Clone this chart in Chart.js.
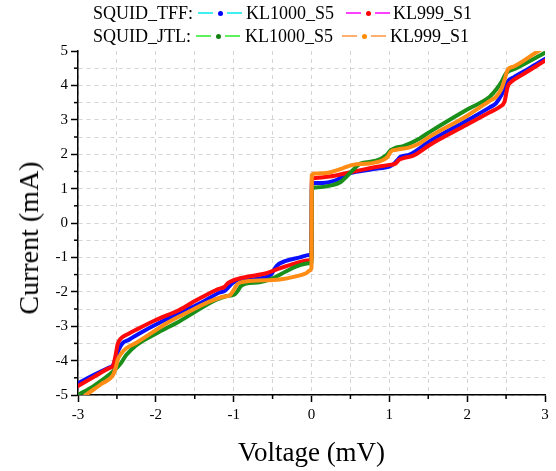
<!DOCTYPE html>
<html>
<head>
<meta charset="utf-8">
<script src="https://cdn.jsdelivr.net/npm/chart.js@4.4.1/dist/chart.umd.min.js"></script>
<style>
  html, body { margin: 0; padding: 0; background: #fff; }
  #wrap { position: relative; width: 556px; height: 471px; font-family: 'Liberation Serif', 'Times New Roman', serif; }
  canvas { position: absolute; left: 0; top: 0; }
  .lg { position: absolute; font-size: 18px; line-height: 20px; color: #000; white-space: nowrap; }
  .sw { position: absolute; width: 44px; height: 20px; }
  .sw .l { position: absolute; top: 9px; height: 1.5px; width: 15px; }
  .sw .l.a { left: 0; }
  .sw .l.b { right: 0; }
  .sw .d { position: absolute; top: 7.5px; left: 19.5px; width: 5px; height: 5px; border-radius: 50%; }
  #ytitle { position: absolute; left: 29px; top: 238px; font-size: 28px; line-height: 32px; white-space: nowrap; color: #000;
            transform: translate(-50%, -50%) rotate(-90deg); }
</style>
</head>
<body>
<div id="wrap">
  <canvas id="c" width="556" height="471"></canvas>
  <div id="ytitle">Current (mA)</div>
  <div class="lg" style="left:93px;top:3px">SQUID_TFF:</div>
  <div class="sw" style="left:198px;top:3px"><div class="l a" style="background:#40f0f0"></div><div class="d" style="background:#0000ff"></div><div class="l b" style="background:#40f0f0"></div></div>
  <div class="lg" style="left:246px;top:3px">KL1000_S5</div>
  <div class="sw" style="left:346px;top:3px"><div class="l a" style="background:#ff40ff"></div><div class="d" style="background:#ff0000"></div><div class="l b" style="background:#ff40ff"></div></div>
  <div class="lg" style="left:393px;top:3px">KL999_S1</div>
  <div class="lg" style="left:93px;top:26px">SQUID_JTL:</div>
  <div class="sw" style="left:196px;top:26px"><div class="l a" style="background:#60f060"></div><div class="d" style="background:#108010"></div><div class="l b" style="background:#60f060"></div></div>
  <div class="lg" style="left:245px;top:26px">KL1000_S5</div>
  <div class="sw" style="left:342px;top:26px"><div class="l a" style="background:#ffb070"></div><div class="d" style="background:#ff8c00"></div><div class="l b" style="background:#ffb070"></div></div>
  <div class="lg" style="left:390px;top:26px">KL999_S1</div>
</div>
<script>
// Tick labels
const xTickLabels = ['-3', '-2', '-1', '0', '1', '2', '3'];
const yTickLabels = ['-5', '-4', '-3', '-2', '-1', '0', '1', '2', '3', '4', '5'];

// SQUID_TFF KL1000_S5
const tffKL1000V = [-3.0, -2.8, -2.6, -2.55, -2.52, -2.48, -2.43, -2.35, -2.25, -1.91, -1.7, -1.4, -1.18, -1.12, -1.06, -1.02, -0.99, -0.84, -0.6, -0.52, -0.45, -0.33, -0.15, -0.03, 0, 0.004, 0.05, 0.21, 0.32, 0.4, 0.47, 0.53, 0.87, 1.0, 1.06, 1.1, 1.14, 1.26, 1.52, 2.0, 2.29, 2.37, 2.44, 2.52, 2.6, 2.8, 3.0];
const tffKL1000I = [-4.66, -4.42, -4.2, -4.14, -3.95, -3.7, -3.5, -3.4, -3.26, -2.85, -2.63, -2.3, -2.02, -1.98, -1.85, -1.75, -1.71, -1.66, -1.58, -1.5, -1.25, -1.1, -1.0, -0.93, -0.92, 1.14, 1.16, 1.18, 1.25, 1.35, 1.43, 1.47, 1.59, 1.64, 1.72, 1.82, 1.92, 1.99, 2.38, 2.98, 3.36, 3.48, 3.72, 4.11, 4.24, 4.5, 4.77];

// SQUID_TFF KL999_S1
const tffKL999V = [-3.0, -2.8, -2.6, -2.55, -2.52, -2.49, -2.45, -2.35, -2.25, -2.0, -1.7, -1.5, -1.31, -1.2, -1.12, -1.07, -1.02, -0.84, -0.58, -0.41, -0.2, -0.03, 0, 0.004, 0.05, 0.23, 0.53, 0.83, 1.0, 1.08, 1.12, 1.17, 1.3, 1.52, 2.0, 2.29, 2.42, 2.48, 2.52, 2.57, 2.7, 3.0];
const tffKL999I = [-4.74, -4.48, -4.22, -4.15, -3.88, -3.52, -3.36, -3.22, -3.1, -2.82, -2.53, -2.27, -2.04, -1.92, -1.86, -1.74, -1.68, -1.57, -1.46, -1.32, -1.17, -1.08, -1.05, 1.28, 1.31, 1.35, 1.49, 1.63, 1.69, 1.73, 1.83, 1.88, 1.95, 2.27, 2.86, 3.22, 3.38, 3.53, 3.96, 4.11, 4.3, 4.72];

// SQUID_JTL KL1000_S5
const jtlKL1000V = [-3.0, -2.8, -2.55, -2.45, -2.38, -2.25, -2.0, -1.7, -1.23, -1.1, -0.99, -0.95, -0.91, -0.84, -0.67, -0.5, -0.33, -0.2, -0.03, 0, 0.004, 0.05, 0.27, 0.38, 0.45, 0.55, 0.62, 0.83, 0.96, 1.02, 1.07, 1.17, 1.39, 1.52, 2.0, 2.29, 2.38, 2.44, 2.5, 2.63, 3.0];
const jtlKL1000I = [-5.0, -4.74, -4.32, -4.08, -3.84, -3.55, -3.22, -2.86, -2.24, -2.13, -2.08, -1.98, -1.84, -1.76, -1.72, -1.61, -1.41, -1.27, -1.17, -1.15, 1.01, 1.03, 1.1, 1.2, 1.35, 1.58, 1.72, 1.81, 1.97, 2.12, 2.18, 2.23, 2.46, 2.65, 3.3, 3.67, 3.9, 4.1, 4.35, 4.5, 4.95];

// SQUID_JTL KL999_S1
const jtlKL999V = [-3.0, -2.9, -2.7, -2.55, -2.52, -2.49, -2.44, -2.38, -2.25, -1.85, -1.7, -1.15, -1.05, -1.0, -0.95, -0.85, -0.41, -0.2, -0.07, -0.02, 0, 0.004, 0.05, 0.23, 0.4, 0.53, 0.75, 0.92, 0.98, 1.02, 1.09, 1.26, 1.39, 1.52, 2.0, 2.29, 2.37, 2.44, 2.48, 2.52, 2.6, 2.9, 3.0];
const jtlKL999I = [-5.17, -5.0, -4.68, -4.42, -4.25, -3.98, -3.78, -3.64, -3.48, -2.9, -2.72, -2.15, -2.1, -1.95, -1.77, -1.7, -1.64, -1.55, -1.46, -1.38, -1.3, 1.4, 1.44, 1.47, 1.59, 1.69, 1.73, 1.83, 1.93, 2.08, 2.13, 2.2, 2.32, 2.51, 3.12, 3.55, 3.67, 3.9, 4.16, 4.45, 4.55, 4.98, 5.12];

const pts = (V, I) => V.map((v, i) => ({ x: v, y: I[i] }));
const FONT = "'Liberation Serif', 'Times New Roman', serif";

const minorTicks = {
  id: 'minorTicks',
  afterDraw(chart) {
    const ctx = chart.ctx;
    ctx.save();
    ctx.strokeStyle = '#000';
    ctx.lineWidth = 1.5;
    const xs = chart.scales.x, ys = chart.scales.y;
    xs.ticks.forEach(t => {
      if (!Number.isInteger(t.value)) {
        const px = xs.getPixelForValue(t.value);
        ctx.beginPath(); ctx.moveTo(px, xs.top); ctx.lineTo(px, xs.top + 4); ctx.stroke();
      }
    });
    ys.ticks.forEach(t => {
      if (!Number.isInteger(t.value)) {
        const py = ys.getPixelForValue(t.value);
        ctx.beginPath(); ctx.moveTo(ys.right, py); ctx.lineTo(ys.right - 4, py); ctx.stroke();
      }
    });
    ctx.restore();
  }
};

const gridColor = (ctx, maxV) => (ctx.tick && ctx.tick.value === maxV) ? 'rgba(0,0,0,0)' : '#d4d4d4';
const tickCol = ctx => (ctx.tick && Number.isInteger(ctx.tick.value)) ? '#000' : 'rgba(0,0,0,0)';

new Chart(document.getElementById('c'), {
  type: 'scatter',
  data: {
    datasets: [
      { label: 'SQUID_TFF KL1000_S5', data: pts(tffKL1000V, tffKL1000I), borderColor: '#0a10ff', order: 3 },
      { label: 'SQUID_TFF KL999_S1', data: pts(tffKL999V, tffKL999I), borderColor: '#ff0a0a', order: 2 },
      { label: 'SQUID_JTL KL1000_S5', data: pts(jtlKL1000V, jtlKL1000I), borderColor: '#1a8f1a', order: 1 },
      { label: 'SQUID_JTL KL999_S1', data: pts(jtlKL999V, jtlKL999I), borderColor: '#ff8c14', order: 0 }
    ].map(d => Object.assign(d, { showLine: true, pointRadius: 0, borderWidth: 4, cubicInterpolationMode: 'monotone', fill: false, borderJoinStyle: 'round', borderCapStyle: 'round' }))
  },
  options: {
    responsive: false,
    animation: false,
    events: [],
    layout: { padding: { top: 51, right: 11, left: 0, bottom: 0 } },
    plugins: { legend: { display: false }, tooltip: { enabled: false } },
    scales: {
      x: {
        type: 'linear', min: -3, max: 3,
        afterFit: s => { s.height = 76; },
        border: { display: true, color: '#000', width: 1.5, dash: [4, 4] },
        grid: { color: c => gridColor(c, 3), lineWidth: 1, tickColor: tickCol, tickLength: 7, tickWidth: 1.5, tickBorderDash: [] },
        ticks: {
          stepSize: 0.5, maxTicksLimit: 100, autoSkip: false, maxRotation: 0, padding: 4,
          color: '#000', font: { family: FONT, size: 15 },
          callback: v => Number.isInteger(v) ? xTickLabels[v + 3] : ''
        },
        title: { display: true, text: 'Voltage (mV)', color: '#000', font: { family: FONT, size: 27 }, padding: { top: 0, bottom: 1 } }
      },
      y: {
        type: 'linear', min: -5, max: 5,
        afterFit: s => { s.width = 78; },
        border: { display: true, color: '#000', width: 1.5, dash: [4, 4] },
        grid: { color: c => gridColor(c, 5), lineWidth: 1, tickColor: tickCol, tickLength: 7, tickWidth: 1.5, tickBorderDash: [] },
        ticks: {
          stepSize: 0.5, maxTicksLimit: 100, autoSkip: false, padding: 3,
          color: '#000', font: { family: FONT, size: 15 },
          callback: v => Number.isInteger(v) ? yTickLabels[v + 5] : ''
        },
        title: { display: false }
      }
    }
  },
  plugins: [minorTicks]
});
</script>
</body>
</html>
